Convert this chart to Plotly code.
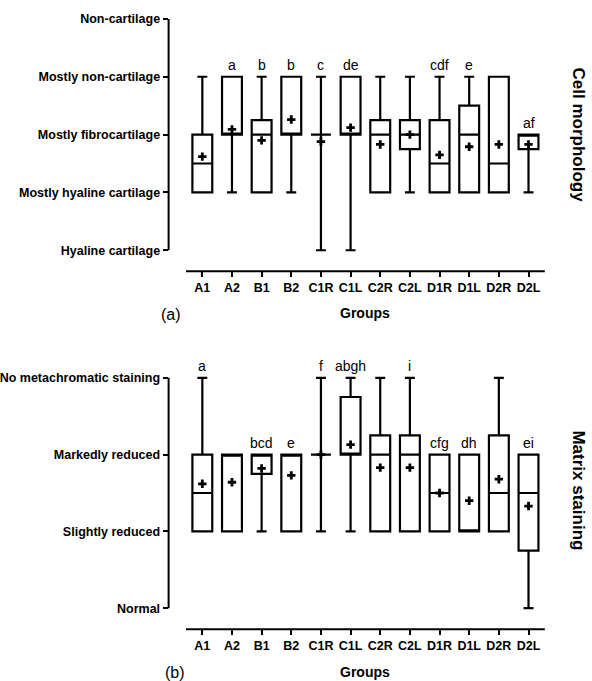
import plotly.graph_objects as go

W, H = 592, 681

groups = ["A1", "A2", "B1", "B2", "C1R", "C1L", "C2R", "C2L", "D1R", "D1L", "D2R", "D2L"]

# Panel (a): cell morphology (0 = Hyaline cartilage ... 4 = Non-cartilage)
cell_ticks = ["Hyaline cartilage", "Mostly hyaline cartilage", "Mostly fibrocartilage",
              "Mostly non-cartilage", "Non-cartilage"]
cell_q1 = [1, 2, 1, 2, 2, 2, 1, 1.75, 1, 1, 1, 1.75]
cell_median = [1.5, 2, 2, 2, 2, 2, 2, 2, 1.5, 2, 1.5, 2]
cell_q3 = [2, 3, 2.25, 3, 2, 3, 2.25, 2.25, 2.25, 2.5, 3, 2]
cell_low = [1, 1, 1, 1, 0, 0, 1, 1, 1, 1, 1, 1]
cell_high = [3, 3, 3, 3, 3, 3, 3, 3, 3, 3, 3, 2]
cell_mean = [1.62, 2.09, 1.9, 2.26, 1.88, 2.12, 1.83, 2.0, 1.65, 1.79, 1.83, 1.83]
cell_letters = ["", "a", "b", "b", "c", "de", "", "", "cdf", "e", "", "af"]

# Panel (b): matrix staining (0 = Normal ... 3 = No metachromatic staining)
mat_ticks = ["Normal", "Slightly reduced", "Markedly reduced", "No metachromatic staining"]
mat_q1 = [1, 1, 1.75, 1, 2, 2, 1, 1, 1, 1, 1, 0.75]
mat_median = [1.5, 2, 2, 2, 2, 2, 2, 2, 1.5, 1, 1.5, 1.5]
mat_q3 = [2, 2, 2, 2, 2, 2.75, 2.25, 2.25, 2, 2, 2.25, 2]
mat_low = [1, 1, 1, 1, 1, 1, 1, 1, 1, 1, 1, 0]
mat_high = [3, 2, 2, 2, 3, 3, 3, 3, 2, 2, 3, 2]
mat_mean = [1.62, 1.64, 1.82, 1.73, 2.0, 2.13, 1.83, 1.83, 1.5, 1.4, 1.68, 1.33]
mat_letters = ["a", "", "bcd", "e", "f", "abgh", "", "i", "cfg", "dh", "", "ei"]


def px_x(p):
    return p / W


def px_y(p):
    return (H - p) / H


YTICKFONT = dict(family="Arial", size=12.5, color="black", weight="bold")
XTICKFONT = dict(family="Arial", size=12.5, color="black", weight="bold")
LETTERFONT = dict(family="Arial", size=14, color="black")

fig = go.Figure()


def add_panel(xa, ya, q1, med, q3, lo, hi, mean, letters):
    fig.add_trace(go.Box(
        x=groups, q1=q1, median=med, q3=q3, lowerfence=lo, upperfence=hi,
        boxpoints=False, fillcolor="white", width=0.67, whiskerwidth=0.5,
        line=dict(color="black", width=2.2), xaxis=xa, yaxis=ya,
        showlegend=False, hoverinfo="skip"))
    fig.add_trace(go.Scatter(
        x=groups, y=mean, mode="markers", xaxis=xa, yaxis=ya,
        marker=dict(symbol="cross", size=7, color="black"),
        showlegend=False, hoverinfo="skip"))
    for g, lab, top_w, top_b in zip(groups, letters, hi, q3):
        if lab:
            fig.add_annotation(x=g, y=max(top_w, top_b), xref=xa, yref=ya,
                               text=lab, showarrow=False, yanchor="bottom",
                               yshift=2, font=LETTERFONT)


add_panel("x", "y", cell_q1, cell_median, cell_q3, cell_low, cell_high, cell_mean, cell_letters)
add_panel("x2", "y2", mat_q1, mat_median, mat_q3, mat_low, mat_high, mat_mean, mat_letters)

xdom = [px_x(165), px_x(548)]
xrange = [-1.137, 11.67]

common_x = dict(range=xrange, showgrid=False, zeroline=False, showline=False,
                ticks="outside", ticklen=5, tickwidth=2, tickcolor="black",
                tickfont=XTICKFONT, tickangle=0, categoryorder="array",
                categoryarray=groups, fixedrange=True)
common_y = dict(showgrid=False, zeroline=False, showline=False, ticks="outside",
                ticklen=5, tickwidth=2, tickcolor="black", tickfont=YTICKFONT,
                fixedrange=True)

fig.update_layout(
    width=W, height=H, margin=dict(l=0, r=0, t=0, b=0),
    paper_bgcolor="white", plot_bgcolor="white",
    xaxis=dict(domain=xdom, anchor="y", **common_x),
    yaxis=dict(domain=[px_y(270), px_y(12)], anchor="x", range=[-0.362, 4.086],
               tickvals=list(range(len(cell_ticks))), ticktext=cell_ticks, **common_y),
    xaxis2=dict(domain=xdom, anchor="y2", **common_x),
    yaxis2=dict(domain=[px_y(629), px_y(370)], anchor="x2", range=[-0.273, 3.09],
                tickvals=list(range(len(mat_ticks))), ticktext=mat_ticks, **common_y),
)

# Prism-style detached axis lines
for xa, ya, ytop in [("x", "y", len(cell_ticks) - 1), ("x2", "y2", len(mat_ticks) - 1)]:
    fig.add_shape(type="line", xref=f"{xa} domain", yref=ya, x0=0, x1=0, y0=0, y1=ytop,
                  line=dict(color="black", width=2))
    fig.add_shape(type="line", xref=xa, yref=f"{ya} domain", x0=-0.55, x1=11.55, y0=0, y1=0,
                  line=dict(color="black", width=2))

TITLEFONT = dict(family="Arial", size=14, color="black", weight="bold")
SIDEFONT = dict(family="Arial", size=17, color="black", weight="bold")
PANELFONT = dict(family="Arial", size=16, color="black")


def label(xp, yp, text, font, angle=0):
    fig.add_annotation(x=px_x(xp), y=px_y(yp), xref="paper", yref="paper", text=text,
                       showarrow=False, xanchor="center", yanchor="middle",
                       textangle=angle, font=font)


label(363, 312, "Groups", TITLEFONT)
label(363, 672, "Groups", TITLEFONT)
label(167, 313, "(a)", PANELFONT)
label(171, 672, "(b)", PANELFONT)
label(578, 133, "Cell morphology", SIDEFONT, 90)
label(578, 490, "Matrix staining", SIDEFONT, 90)

fig.write_html("out.html")
